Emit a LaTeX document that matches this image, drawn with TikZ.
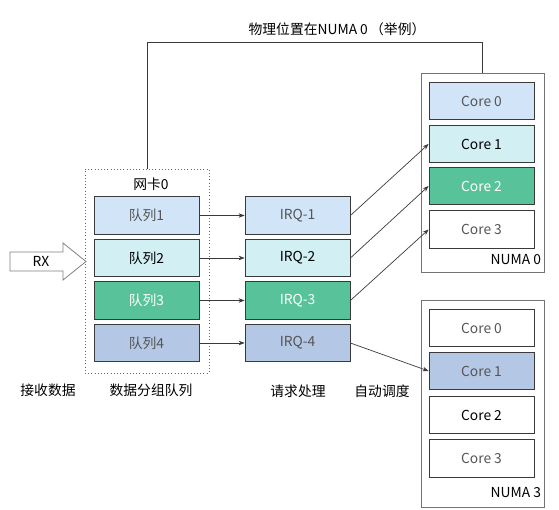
\documentclass[tikz,border=0pt]{standalone}
\usepackage{fontspec}
\setmainfont{Noto Sans CJK SC}
\usetikzlibrary{arrows.meta}
\definecolor{lblue}{HTML}{D2E5F8}
\definecolor{lcyan}{HTML}{D2EFF3}
\definecolor{qgreen}{HTML}{58C39B}
\definecolor{slate}{HTML}{B4C7E5}
\definecolor{boxline}{HTML}{3A3A3A}
\definecolor{greytext}{HTML}{555555}
\begin{document}
\begin{tikzpicture}[x=1pt,y=-1pt,
  every node/.style={font=\fontsize{13.8}{16}\selectfont},
  box/.style={draw=boxline,line width=0.8pt,minimum width=105,minimum height=37.5,inner sep=0pt},
  numabox/.style={draw=black!55,line width=0.8pt,inner sep=0pt},
  link/.style={draw=boxline,line width=0.7pt,-{Stealth[length=6pt,width=4.5pt]}}]
\useasboundingbox (0,0) rectangle (559,510);
% network card and its queues
\node [draw=black!60,dash pattern=on 0.8pt off 2.4pt,line width=0.8pt,minimum width=124,minimum height=204,inner sep=0pt] (nic) at (147,271) {};
\node (niclabel) at (151,184.5) {网卡0};
\node [box,fill=lblue,text=greytext] (q1) at (146.5,215.5) {队列1};
\node [box,fill=lcyan] (q2) at (146.5,258) {队列2};
\node [box,fill=qgreen,text=white] (q3) at (146.5,300.5) {队列3};
\node [box,fill=slate,text=greytext] (q4) at (146.5,343) {队列4};
% RX
\node (rx) at (41,261.5) {RX};
\draw [draw=black!50,line width=0.8pt] (10,252) -- (63,252) -- (63,243) -- (86,261.5) -- (63,280) -- (63,271) -- (10,271) -- cycle;
% interrupts
\node [box,fill=lblue,text=greytext] (irq1) at (297.5,215.5) {IRQ-1};
\node [box,fill=lcyan] (irq2) at (297.5,258) {IRQ-2};
\node [box,fill=qgreen,text=white] (irq3) at (297.5,300.5) {IRQ-3};
\node [box,fill=slate,text=greytext] (irq4) at (297.5,343) {IRQ-4};
% NUMA 0
\node [numabox,minimum width=123,minimum height=199] (numa0) at (482.5,172.5) {};
\node [anchor=east] (numa0label) at (544.5,260) {NUMA 0};
\node [box,fill=lblue,text=greytext] (n0c0) at (481.5,101) {Core 0};
\node [box,fill=lcyan] (n0c1) at (481.5,144) {Core 1};
\node [box,fill=qgreen,text=white] (n0c2) at (481.5,186) {Core 2};
\node [box,fill=white,text=greytext] (n0c3) at (481.5,229.5) {Core 3};
% NUMA 3
\node [numabox,minimum width=123,minimum height=207] (numa3) at (482.5,403.5) {};
\node [anchor=east] (numa3label) at (544.5,493) {NUMA 3};
\node [box,fill=white,text=greytext] (n3c0) at (481.5,328) {Core 0};
\node [box,fill=slate,text=greytext] (n3c1) at (481.5,371) {Core 1};
\node [box,fill=white] (n3c2) at (481.5,415) {Core 2};
\node [box,fill=white,text=greytext] (n3c3) at (481.5,458.5) {Core 3};
% physical location
\coordinate (top) at (147,42);
\draw [draw=boxline,line width=0.8pt] (nic.north) -- (top) -| (numa0.north);
\node (toplabel) at (337,29) {物理位置在NUMA 0\,（举例）};
% connectors
\draw [link] (q1) -- (irq1);
\draw [link] (q2) -- (irq2);
\draw [link] (q3) -- (irq3);
\draw [link] (q4) -- (irq4);
\draw [link] (irq1.east) -- (n0c1.west);
\draw [link] (irq2.east) -- (n0c2.west);
\draw [link] (irq3.east) -- (n0c3.west);
\draw [link] (irq4.east) -- (n3c1.west);
% captions
\node (cap1) at (48,390) {接收数据};
\node (cap2) at (151,390) {数据分组队列};
\node (cap3) at (298,391) {请求处理};
\node (cap4) at (382,391) {自动调度};
\end{tikzpicture}
\end{document}
